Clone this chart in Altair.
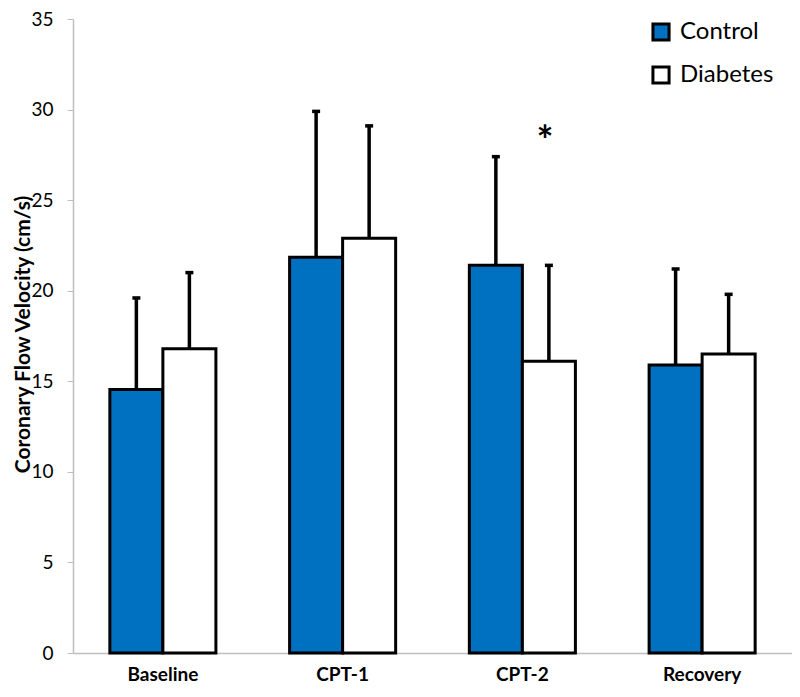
import altair as alt
import pandas as pd

categories = ["Baseline", "CPT-1", "CPT-2", "Recovery"]
groups = ["Control", "Diabetes"]
control_mean = [14.55, 21.85, 21.4, 15.9]
control_upper = [19.6, 29.9, 27.4, 21.2]
diabetes_mean = [16.8, 22.9, 16.1, 16.5]
diabetes_upper = [21.0, 29.1, 21.4, 19.8]
colors = ["#0070C0", "#FFFFFF"]

rows = []
for i, c in enumerate(categories):
    rows.append({"cat": c, "group": "Control", "mean": control_mean[i], "upper": control_upper[i]})
    rows.append({"cat": c, "group": "Diabetes", "mean": diabetes_mean[i], "upper": diabetes_upper[i]})
df = pd.DataFrame(rows)

star_df = pd.DataFrame([{"cat": "CPT-2", "group": "Diabetes", "y": 28.7, "t": "*"}])

FONT = "Lato"

x = alt.X("cat:N", sort=categories, title=None,
          scale=alt.Scale(paddingInner=0.41, paddingOuter=0.205),
          axis=alt.Axis(labelAngle=0, labelFont=FONT, labelFontSize=19, labelFontWeight="bold",
                        labelColor="#000000", ticks=False, domainColor="#BFBFBF", domainWidth=1.5,
                        labelPadding=12))
xo = alt.XOffset("group:N", sort=groups, scale=alt.Scale(paddingInner=0, paddingOuter=0))
y = alt.Y("mean:Q", title="Coronary Flow Velocity (cm/s)",
          scale=alt.Scale(domain=[0, 35], nice=False),
          axis=alt.Axis(values=[0, 5, 10, 15, 20, 25, 30, 35], grid=False, domainColor="#BFBFBF",
                        domainWidth=1.5, tickColor="#BFBFBF", tickSize=6, labelFont=FONT,
                        labelFontSize=19, labelColor="#000000", labelPadding=14,
                        titleFont=FONT, titleFontSize=21, titleFontWeight="bold",
                        titleColor="#000000", titleX=-50, titleY=315, titleAngle=-90,
                        titleAlign="center", titleBaseline="middle"))

base = alt.Chart(df)

bars = base.mark_bar(stroke="black", strokeWidth=3).encode(
    x=x, xOffset=xo, y=y,
    color=alt.Color("group:N", sort=groups,
                    scale=alt.Scale(domain=groups, range=colors),
                    legend=alt.Legend(title=None, orient="none", legendX=576, legendY=1,
                                      symbolType="square", symbolSize=260,
                                      symbolStrokeColor="black", symbolStrokeWidth=3,
                                      labelFont=FONT, labelFontSize=24, labelColor="#000000",
                                      labelOffset=7, rowPadding=13, symbolOpacity=1)),
)

err = base.mark_rule(color="black", strokeWidth=3.5).encode(
    x=x, xOffset=xo, y=alt.Y("mean:Q"), y2="upper:Q")

caps = base.mark_tick(color="black", thickness=3.5, size=8, opacity=1).encode(
    x=x, xOffset=xo, y=alt.Y("upper:Q"))

star = alt.Chart(star_df).mark_text(font=FONT, fontSize=40, fontWeight="bold", color="black",
                                    dx=-4, dy=10).encode(
    x=x, xOffset=xo, y=alt.Y("y:Q"), text="t:N")

chart = alt.layer(bars, err, caps, star).properties(
    width=719, height=634,
    autosize=alt.AutoSizeParams(type="none"),
    padding={"left": 65, "top": 11, "right": 0, "bottom": 36},
).configure_view(stroke=None).configure_axis(domainCap="butt")

chart.save("out.html", embed_options={"renderer": "svg", "actions": False})
